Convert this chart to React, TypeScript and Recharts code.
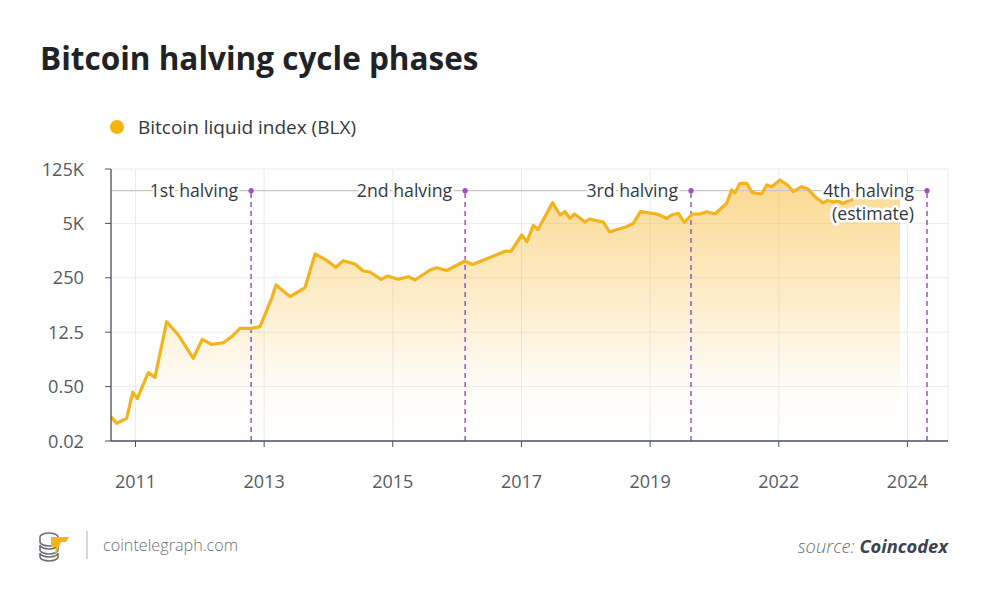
import React from 'react';
import {
  ComposedChart,
  Line,
  Area,
  XAxis,
  YAxis,
  CartesianGrid,
  ReferenceLine,
  ReferenceDot,
} from 'recharts';

// ---- data ----
const blxYears = [
  2010.547, 2010.643, 2010.812, 2010.913, 2010.99, 2011.176, 2011.289, 2011.486, 2011.682, 2011.935,
  2012.087, 2012.245, 2012.441, 2012.583, 2012.722, 2012.92, 2013.06, 2013.257, 2013.33, 2013.566,
  2013.819, 2013.988, 2014.156, 2014.337, 2014.465, 2014.662, 2014.802, 2014.915, 2015.101, 2015.214,
  2015.392, 2015.561, 2015.674, 2015.927, 2016.04, 2016.209, 2016.518, 2016.644, 2017.209, 2017.293,
  2017.474, 2017.563, 2017.669, 2017.749, 2017.993, 2018.12, 2018.204, 2018.288, 2018.364, 2018.541,
  2018.617, 2018.85, 2018.955, 2019.056, 2019.233, 2019.356, 2019.477, 2019.751, 2019.919, 2020.004,
  2020.115, 2020.216, 2020.351, 2020.481, 2020.594, 2020.734, 2020.931, 2021.016, 2021.071, 2021.156,
  2021.269, 2021.363, 2021.522, 2021.606, 2021.69, 2021.83, 2021.96, 2022.055, 2022.196, 2022.308,
  2022.421, 2022.476, 2022.556, 2022.64, 2022.724, 2022.808, 2022.893, 2022.977, 2023.061,
];
const blxPrices = [
  0.08, 0.055, 0.074, 0.33, 0.23, 1.02, 0.78, 19.1, 8.9, 2.33,
  6.95, 5.2, 5.7, 8.1, 13.1, 13.1, 14.4, 73.5, 158, 81,
  135, 940, 693, 437, 640, 529, 354, 334, 219, 265,
  219, 255, 211, 375, 425, 364, 628, 514, 1117, 1098,
  2805, 1908, 4845, 3849, 17986, 8864, 10718, 7333, 9389, 5926,
  7043, 5926, 3334, 3740, 4444, 5497, 10718, 9389, 7333, 8864,
  9775, 5825, 9389, 9389, 10718, 9389, 17375, 37350, 31970, 54900,
  54900, 31970, 29670, 49800, 45150, 66400, 49800, 33870, 45150, 38870,
  25390, 21870, 17680, 21010, 18720, 19830, 17170, 19830, 21870,
];
// shaded area continues (without line) to the end of the series
const shadeYears = [2023.45, 2023.854];
const shadePrices = [23170, 23170];

const yTickLabels = ['0.02', '0.50', '12.5', '250', '5K', '125K'];
const xTickYears = [2010.96, 2013.13, 2015.3, 2017.47, 2019.64, 2021.81, 2023.98];
const xTickLabels = ['2011', '2013', '2015', '2017', '2019', '2022', '2024'];

const halvingYears = [2012.91, 2016.52, 2020.33, 2024.31];
const halvingLabels = ['1st halving', '2nd halving', '3rd halving', '4th halving'];
const halvingNotes = ['', '', '', '(estimate)'];
const halvingLevelPrice = 36000;

// ---- derived ----
const Y_MIN = Math.log10(0.02);
const Y_MAX = Math.log10(125000);
const yTicks = yTickLabels.map((_, i) => Y_MIN + ((Y_MAX - Y_MIN) * i) / (yTickLabels.length - 1));
const X_MIN = 2010.547;
const X_MAX = 2024.664;
const LEVEL = Math.log10(halvingLevelPrice);

const data: any[] = [];
blxYears.forEach((yr, i) => {
  const v = Math.log10(blxPrices[i]);
  data.push({ year: yr, blx: v, shade: v });
});
shadeYears.forEach((yr, i) => {
  data.push({ year: yr, shade: Math.log10(shadePrices[i]) });
});

const FONT = '"Open Sans", "Noto Sans", sans-serif';
const LINE_COLOR = '#f2b31c';
const PURPLE = '#a24fc6';
const AXIS = '#4a5260';
const TEXT = '#555b63';

const YTick = (props: any) => {
  const { x, y, payload } = props;
  let idx = 0;
  let best = Infinity;
  yTicks.forEach((t, i) => {
    const d = Math.abs(t - payload.value);
    if (d < best) {
      best = d;
      idx = i;
    }
  });
  return (
    <text x={x - 19} y={y} dy={6.5} textAnchor="end" fill={TEXT} fontSize={18.2} fontFamily={FONT}>
      {yTickLabels[idx]}
    </text>
  );
};

const XTick = (props: any) => {
  const { x, y, payload } = props;
  let idx = 0;
  let best = Infinity;
  xTickYears.forEach((t, i) => {
    const d = Math.abs(t - payload.value);
    if (d < best) {
      best = d;
      idx = i;
    }
  });
  return (
    <text x={x} y={y} dy={39} textAnchor="middle" fill={TEXT} fontSize={18} fontFamily={FONT}>
      {xTickLabels[idx]}
    </text>
  );
};

const haloProps = {
  stroke: '#ffffff',
  strokeWidth: 5,
  strokeLinejoin: 'round' as const,
  paintOrder: 'stroke' as const,
};

const makeHalvingLabel = (i: number) => (props: any) => {
  const vb = props.viewBox || {};
  const cx = (vb.x || 0) + (vb.width || 0) / 2;
  const cy = (vb.y || 0) + (vb.height || 0) / 2;
  return (
    <g>
      <text x={cx - 13} y={cy + 6} textAnchor="end" fill="#333940" fontSize={17.7} fontFamily={FONT} {...haloProps}>
        {halvingLabels[i]}
      </text>
      {halvingNotes[i] ? (
        <text x={cx - 13} y={cy + 29} textAnchor="end" fill="#333940" fontSize={17.7} fontFamily={FONT} {...haloProps}>
          {halvingNotes[i]}
        </text>
      ) : null}
    </g>
  );
};

const Logo = () => (
  <g>
    <path d="M40,537 a9,4 0 0,1 18,0 v5 a9,4 0 0,1 -18,0 z" fill="#fff" stroke="#6b6f75" strokeWidth={1.6} />
    <path d="M40,545 a9,4 0 0,0 18,0 v5 a9,4 0 0,1 -18,0 z" fill="#fff" stroke="#6b6f75" strokeWidth={1.6} />
    <path d="M40,553 a9,4 0 0,0 18,0 v4 a9,4 0 0,1 -18,0 z" fill="#fff" stroke="#6b6f75" strokeWidth={1.6} />
    <path d="M51,537 h18 l-3,5 h-5 l-7,17 l2,-12 h-5 z" fill="#f2b31c" />
  </g>
);

export default function App() {
  return (
    <div
      style={{
        position: 'absolute',
        left: 0,
        top: 0,
        width: 990,
        height: 600,
        background: '#ffffff',
        fontFamily: FONT,
        overflow: 'hidden',
      }}
    >
      <ComposedChart
        width={990}
        height={600}
        data={data}
        margin={{ top: 169, right: 42, bottom: 119, left: 0 }}
      >
        <defs>
          <linearGradient id="blxFill" x1="0" y1="0" x2="0" y2="1">
            <stop offset="0%" stopColor="#f6b62a" stopOpacity={0.52} />
            <stop offset="45%" stopColor="#f6b62a" stopOpacity={0.25} />
            <stop offset="78%" stopColor="#f6b62a" stopOpacity={0.04} />
            <stop offset="100%" stopColor="#f6b62a" stopOpacity={0} />
          </linearGradient>
        </defs>
        <CartesianGrid stroke="#ececec" strokeWidth={1} />
        <XAxis
          dataKey="year"
          type="number"
          domain={[X_MIN, X_MAX]}
          ticks={xTickYears}
          allowDataOverflow
          height={40}
          tickSize={6}
          tickMargin={2}
          stroke={AXIS}
          tickLine={{ stroke: AXIS }}
          axisLine={{ stroke: AXIS, strokeWidth: 1.3 }}
          tick={<XTick />}
          interval={0}
        />
        <YAxis
          type="number"
          domain={[Y_MIN, Y_MAX]}
          ticks={yTicks}
          allowDataOverflow
          width={111}
          tickSize={6}
          tickMargin={2}
          stroke={AXIS}
          tickLine={{ stroke: AXIS }}
          axisLine={{ stroke: AXIS, strokeWidth: 1.3 }}
          tick={<YTick />}
          interval={0}
        />
        <Area
          dataKey="shade"
          type="linear"
          stroke="none"
          fill="url(#blxFill)"
          fillOpacity={1}
          baseValue="dataMin"
          isAnimationActive={false}
          dot={false}
          activeDot={false}
        />
        <ReferenceLine
          segment={[
            { x: X_MIN, y: LEVEL },
            { x: halvingYears[3], y: LEVEL },
          ]}
          stroke="#c8c8cc"
          strokeWidth={1.2}
        />
        {halvingYears.map((h, i) => (
          <ReferenceLine
            key={'hl' + i}
            segment={[
              { x: h, y: Y_MIN },
              { x: h, y: LEVEL },
            ]}
            stroke={PURPLE}
            strokeWidth={1.5}
            strokeDasharray="5 4"
          />
        ))}
        <Line
          dataKey="blx"
          type="linear"
          stroke={LINE_COLOR}
          strokeWidth={3.2}
          strokeLinejoin="round"
          dot={false}
          activeDot={false}
          isAnimationActive={false}
        />
        {halvingYears.map((h, i) => (
          <ReferenceDot
            key={'hd' + i}
            x={h}
            y={LEVEL}
            r={2.6}
            fill={PURPLE}
            stroke="none"
            label={{ content: makeHalvingLabel(i) }}
          />
        ))}
      </ComposedChart>

      <svg
        width={990}
        height={600}
        style={{ position: 'absolute', left: 0, top: 0, pointerEvents: 'none' }}
      >
        <text x={40} y={70} fontSize={31.5} fontWeight={700} fill="#1f2328" fontFamily={FONT}>
          Bitcoin halving cycle phases
        </text>
        <circle cx={117} cy={127} r={7} fill="#f5b50f" />
        <text x={138} y={133.5} fontSize={19} fill="#333940" fontFamily={FONT}>
          Bitcoin liquid index (BLX)
        </text>
        <Logo />
        <line x1={87} y1={531} x2={87} y2={559} stroke="#b9bcc0" strokeWidth={1.2} />
        <text x={103} y={551} fontSize={16.2} fill="#6b6f75" fontFamily={FONT} fontWeight={300}>
          cointelegraph.com
        </text>
        <text x={948} y={552.5} fontSize={18.3} textAnchor="end" fontFamily={FONT} fontStyle="italic">
          <tspan fill="#6b6f75" fontWeight={300}>source: </tspan>
          <tspan fill="#3b4350" fontWeight={700}>Coincodex</tspan>
        </text>
      </svg>
    </div>
  );
}
